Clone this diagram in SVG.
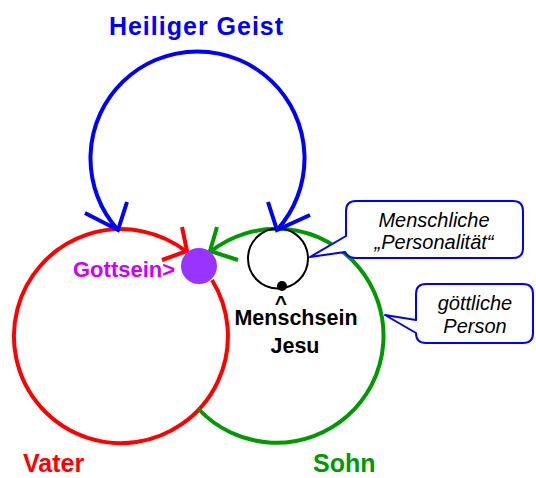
<svg xmlns="http://www.w3.org/2000/svg" width="536" height="478" viewBox="0 0 536 478">
<style>
.arc{fill:none;stroke-width:4;stroke-linecap:butt}
.head{fill:none;stroke-width:4;stroke-linecap:butt;stroke-linejoin:miter}
.lbl{font-family:"Liberation Sans",Arial,sans-serif;font-weight:bold}
.call{fill:#fff;stroke:#0000ff;stroke-width:2;stroke-linejoin:round}
.ctext{font-family:"Liberation Sans",Arial,sans-serif;font-style:italic;font-size:20px;fill:#000;text-anchor:middle}
</style>
<rect width="536" height="478" fill="#fff"/>
<g id="vater">
  <path class="arc" stroke="#ff0000" d="M212 280 A107 107 0 1 1 187 252"/>
  <path class="head" stroke="#ff0000" d="M182 227 L187 251 L162 260"/>
  <text class="lbl" x="23" y="472" font-size="25" fill="#ff0000">Vater</text>
</g>
<g id="sohn">
  <path class="arc" stroke="#009900" d="M198.5 409 A107 107 0 1 0 210 252"/>
  <path class="head" stroke="#009900" d="M217 227 L210 251 L238 260"/>
  <text class="lbl" x="313" y="472" font-size="25" fill="#009900">Sohn</text>
</g>
<g id="gottsein">
  <circle cx="199" cy="266" r="18" fill="#9933ff"/>
  <text class="lbl" x="73" y="277" font-size="22" fill="#cc00ff">Gottsein&gt;</text>
</g>
<g id="menschsein">
  <circle cx="278" cy="258.5" r="30" fill="none" stroke="#000" stroke-width="2"/>
  <circle cx="282" cy="286" r="5" fill="#000"/>
  <text class="lbl" x="281" y="310" font-size="21" fill="#000" text-anchor="middle">^</text>
  <text class="lbl" x="296" y="325" font-size="21.5" fill="#000" text-anchor="middle">Menschsein</text>
  <text class="lbl" x="295" y="353" font-size="21.5" fill="#000" text-anchor="middle">Jesu</text>
</g>
<g id="heiliger-geist">
  <text class="lbl" x="196.5" y="35" font-size="25" fill="#0000ff" text-anchor="middle" letter-spacing="1">Heiliger Geist</text>
</g>
<g id="connectors">
  <path class="arc" stroke="#0000ff" d="M118 230 A107 107 0 1 1 277 230"/>
  <path class="head" stroke="#0000ff" d="M85 213 L118 230 L127 202"/>
  <path class="head" stroke="#0000ff" d="M268 202 L277 230 L310 215"/>
</g>
<g id="callout-personalitaet">
  <path class="call" d="M356 201 H513 Q523 201 523 211 V248 Q523 258 513 258 H356 Q348 258 345 252 L310 257 L346 236 V211 Q346 201 356 201 Z"/>
  <text class="ctext" x="434" y="227">Menschliche</text>
  <text class="ctext" x="434" y="249">„Personalität“</text>
</g>
<g id="callout-person">
  <path class="call" d="M426 284 H523 Q533 284 533 294 V333 Q533 343 523 343 H426 Q416 343 416 333 L385 315 L416 320 V294 Q416 284 426 284 Z"/>
  <text class="ctext" x="475" y="310">göttliche</text>
  <text class="ctext" x="475" y="333">Person</text>
</g>
</svg>
